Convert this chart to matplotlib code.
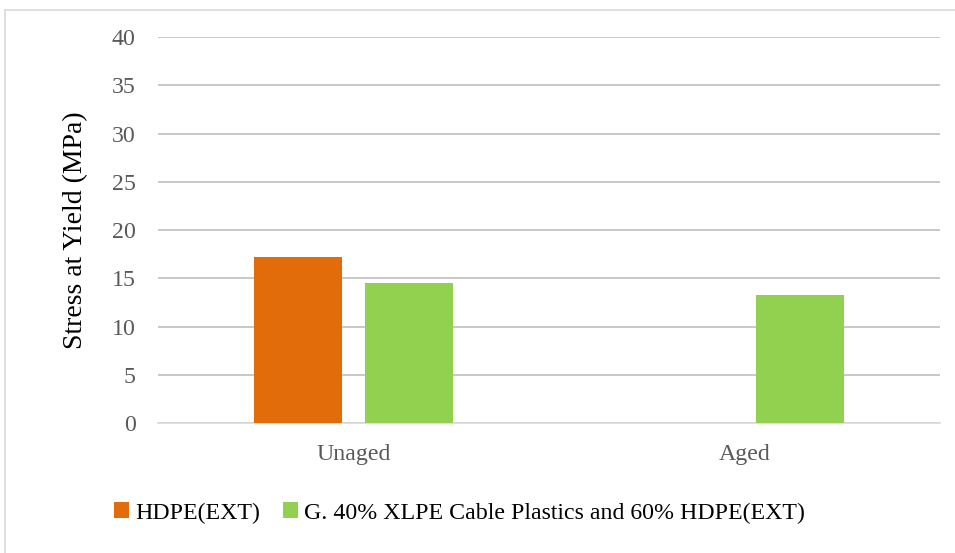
import numpy as np
import matplotlib.pyplot as plt
from matplotlib.patches import Rectangle

plt.rcParams['font.family'] = ['Liberation Serif', 'DejaVu Serif']

categories = ['Unaged', 'Aged']
series_names = ['HDPE(EXT)', 'G. 40% XLPE Cable Plastics and 60% HDPE(EXT)']
hdpe = [17.2, np.nan]
blend = [14.5, 13.3]
colors = ['#E36C0A', '#92D050']

fig = plt.figure(figsize=(9.55, 5.53), dpi=100)
ax = fig.add_axes([0.1654, 0.235, 0.8189, 0.698])

x = np.arange(len(categories))
w = 0.225
ax.bar(x - 0.143, hdpe, w, color=colors[0], label=series_names[0], zorder=3)
ax.bar(x + 0.143, blend, w, color=colors[1], label=series_names[1], zorder=3)

ax.set_xlim(-0.5, 1.5)
ax.set_ylim(0, 40)
ax.set_yticks(range(0, 41, 5))
ax.set_xticks(x)
ax.set_xticklabels(categories)
ax.tick_params(axis='both', length=0, labelsize=17.2, colors='#595959')
ax.tick_params(axis='y', pad=16)
ax.tick_params(axis='x', pad=15)
ax.yaxis.grid(True, color='#BFBFBF', linewidth=1.2, zorder=0)
for s in ['top', 'right', 'left']:
    ax.spines[s].set_visible(False)
ax.spines['bottom'].set_color('#D9D9D9')
ax.spines['bottom'].set_linewidth(1.2)
ax.set_ylabel('Stress at Yield (MPa)', fontsize=20, color='black', labelpad=17)

fig.legend(loc='center', bbox_to_anchor=(0.481, 1 - 513 / 553), ncol=2, frameon=False,
           fontsize=17.2, handlelength=0.65, handleheight=0.65, handletextpad=0.25,
           columnspacing=0.95)

# thin frame around the chart area
fig.patches.append(Rectangle((5 / 955, -0.1), 1.2, 1 - 10 / 553 + 0.1, transform=fig.transFigure,
                             fill=False, edgecolor='#D9D9D9', linewidth=1.2))

fig.savefig('out.png', dpi=100)
